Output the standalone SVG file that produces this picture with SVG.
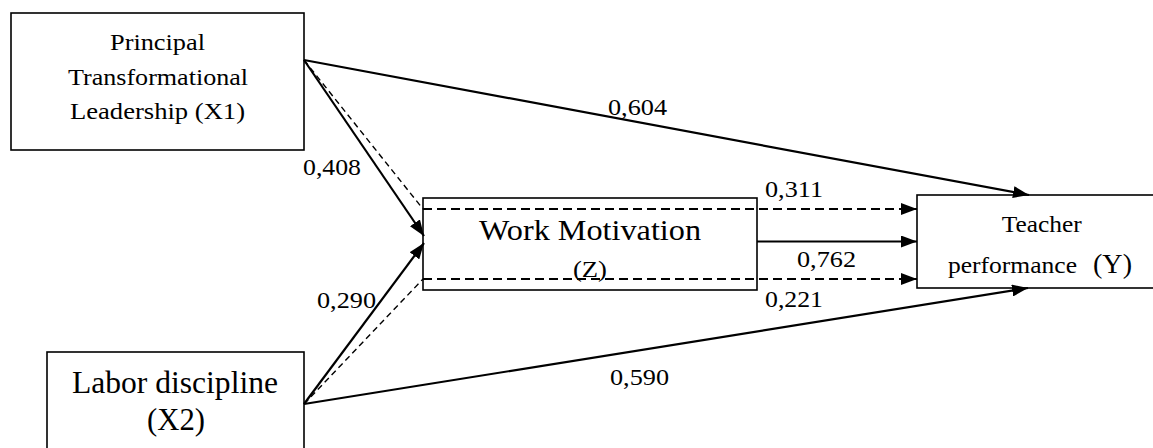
<svg xmlns="http://www.w3.org/2000/svg" width="1153" height="448" viewBox="0 0 1153 448">
<style>
.box{fill:none;stroke:#000;stroke-width:1.6}
.t{font-family:"Liberation Serif","DejaVu Serif",serif;fill:#000}
.s{fill:none;stroke:#000;stroke-width:2.2}
.d{fill:none;stroke:#000;stroke-width:1.4;stroke-dasharray:6 4}
.dh{fill:none;stroke:#000;stroke-width:2.2;stroke-dasharray:9 5}
</style>
<defs>
<marker id="ah" viewBox="0 0 16 12" refX="16" refY="6" markerWidth="16" markerHeight="12" markerUnits="userSpaceOnUse" orient="auto">
<path d="M0,0 L16,6 L0,12 Z" fill="#000"/>
</marker>
</defs>
<rect width="1153" height="448" fill="#fff"/>
<g id="X1">
<rect class="box" x="11" y="13" width="293" height="137"/>
<text class="t" font-size="24" x="157.5" y="50" text-anchor="middle" textLength="95" lengthAdjust="spacingAndGlyphs">Principal</text>
<text class="t" font-size="24" x="158" y="85" text-anchor="middle" textLength="180" lengthAdjust="spacingAndGlyphs">Transformational</text>
<text class="t" font-size="24" x="157.5" y="119" text-anchor="middle" textLength="175" lengthAdjust="spacingAndGlyphs">Leadership (X1)</text>
</g>
<g id="X2">
<rect class="box" x="47" y="352" width="257" height="110"/>
<text class="t" font-size="31" x="175" y="393" text-anchor="middle" textLength="206" lengthAdjust="spacingAndGlyphs">Labor discipline</text>
<text class="t" font-size="31" x="176" y="430" text-anchor="middle" textLength="58" lengthAdjust="spacingAndGlyphs">(X2)</text>
</g>
<g id="Z">
<rect class="box" x="423" y="198" width="334" height="92"/>
<text class="t" font-size="30" x="590" y="240" text-anchor="middle" textLength="222" lengthAdjust="spacingAndGlyphs">Work Motivation</text>
<text class="t" font-size="24" x="590" y="277" text-anchor="middle" textLength="34" lengthAdjust="spacingAndGlyphs">(Z)</text>
</g>
<g id="Y">
<rect class="box" x="917" y="195" width="250" height="93"/>
<text class="t" font-size="24" x="1041.7" y="232" text-anchor="middle" textLength="80" lengthAdjust="spacingAndGlyphs">Teacher</text>
<text class="t" font-size="24" x="948" y="273" textLength="129" lengthAdjust="spacingAndGlyphs">performance</text>
<text class="t" font-size="28" x="1093" y="273" textLength="39" lengthAdjust="spacingAndGlyphs">(Y)</text>
</g>
<g id="connectors">
<path class="s" d="M304,60 L1029,195" marker-end="url(#ah)"/>
<path class="s" d="M304,60 L424,236" marker-end="url(#ah)"/>
<path class="d" d="M304,60 L423,209"/>
<path class="s" d="M304,404 L424,243" marker-end="url(#ah)"/>
<path class="d" d="M304,404 L423,279"/>
<path class="s" d="M304,404 L1028,288" marker-end="url(#ah)"/>
<path class="dh" d="M423,209 L917,209" marker-end="url(#ah)"/>
<path class="s" d="M757,241.5 L917,241.5" marker-end="url(#ah)"/>
<path class="dh" d="M423,279 L917,279" marker-end="url(#ah)"/>
</g>
<g id="labels">
<text class="t" font-size="24" x="608" y="115" textLength="59" lengthAdjust="spacingAndGlyphs">0,604</text>
<text class="t" font-size="24" x="303" y="175" textLength="58" lengthAdjust="spacingAndGlyphs">0,408</text>
<text class="t" font-size="24" x="765" y="197" textLength="58" lengthAdjust="spacingAndGlyphs">0,311</text>
<text class="t" font-size="24" x="797" y="267" textLength="59" lengthAdjust="spacingAndGlyphs">0,762</text>
<text class="t" font-size="24" x="765" y="307" textLength="58" lengthAdjust="spacingAndGlyphs">0,221</text>
<text class="t" font-size="24" x="317" y="308" textLength="59" lengthAdjust="spacingAndGlyphs">0,290</text>
<text class="t" font-size="24" x="610" y="385" textLength="59" lengthAdjust="spacingAndGlyphs">0,590</text>
</g>
</svg>
